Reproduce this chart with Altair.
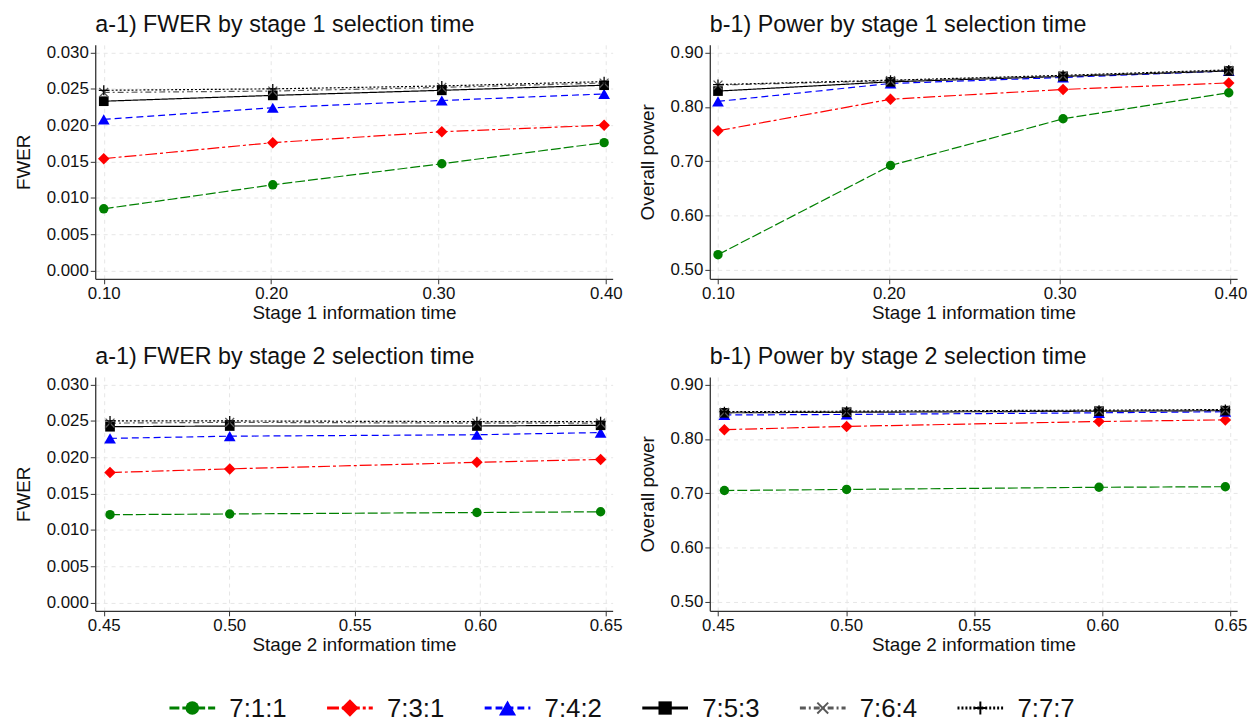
import altair as alt
import pandas as pd

FONT = "Liberation Sans"

# ---------------- data ----------------
series = ["7:1:1", "7:3:1", "7:4:2", "7:5:3", "7:6:4", "7:7:7"]
colors = ["#008000", "#ff0000", "#0000ff", "#000000", "#595959", "#000000"]
dashes = [[10, 3], [12, 3, 3, 3], [7, 4], [1, 0], [6, 3, 2, 3], [2, 2]]
shapes = ["circle", "diamond", "triangle-up", "square",
          "M-1,-1L1,1M-1,1L1,-1", "M-1,0L1,0M0,-1L0,1"]
filled = [True, True, True, True, False, False]
sizes = [90, 135, 140, 95, 80, 100]
legend_sizes = [190, 310, 300, 180, 120, 170]
legend_dashes = [[16, 6], [18, 5, 3, 5], [14, 6], [1, 0], [8, 5], [6, 5]]

stage1_time = [0.100, 0.201, 0.302, 0.399]
stage2_time = [0.4525, 0.5002, 0.5987, 0.648]

fwer_711_s1 = [0.0085, 0.0118, 0.0147, 0.0176]
fwer_731_s1 = [0.0154, 0.0176, 0.0191, 0.0200]
fwer_742_s1 = [0.0208, 0.0224, 0.0234, 0.0243]
fwer_753_s1 = [0.0233, 0.0241, 0.0248, 0.0255]
fwer_764_s1 = [0.0245, 0.0247, 0.0252, 0.0258]
fwer_777_s1 = [0.0248, 0.0250, 0.0254, 0.0260]

pow_711_s1 = [0.528, 0.692, 0.778, 0.826]
pow_731_s1 = [0.756, 0.814, 0.832, 0.844]
pow_742_s1 = [0.810, 0.843, 0.854, 0.866]
pow_753_s1 = [0.829, 0.846, 0.856, 0.866]
pow_764_s1 = [0.840, 0.848, 0.857, 0.867]
pow_777_s1 = [0.841, 0.849, 0.858, 0.868]

fwer_711_s2 = [0.0121, 0.0122, 0.0124, 0.0125]
fwer_731_s2 = [0.0179, 0.0184, 0.0193, 0.0197]
fwer_742_s2 = [0.0226, 0.0229, 0.0231, 0.0234]
fwer_753_s2 = [0.0242, 0.0243, 0.0243, 0.0244]
fwer_764_s2 = [0.0247, 0.0248, 0.0247, 0.0247]
fwer_777_s2 = [0.0250, 0.0250, 0.0249, 0.0249]

pow_711_s2 = [0.705, 0.707, 0.711, 0.712]
pow_731_s2 = [0.817, 0.823, 0.832, 0.835]
pow_742_s2 = [0.844, 0.845, 0.848, 0.850]
pow_753_s2 = [0.848, 0.849, 0.851, 0.852]
pow_764_s2 = [0.849, 0.850, 0.852, 0.853]
pow_777_s2 = [0.850, 0.851, 0.853, 0.854]

fwer_ticks = [0.000, 0.005, 0.010, 0.015, 0.020, 0.025, 0.030]
power_ticks = [0.50, 0.60, 0.70, 0.80, 0.90]
s1_ticks = [0.10, 0.20, 0.30, 0.40]
s2_ticks = [0.45, 0.50, 0.55, 0.60, 0.65]


def long_df(times, lists):
    rows = []
    for name, vals in zip(series, lists):
        for t, v in zip(times, vals):
            rows.append({"t": t, "v": v, "s": name})
    return pd.DataFrame(rows)


df_fwer1 = long_df(stage1_time, [fwer_711_s1, fwer_731_s1, fwer_742_s1, fwer_753_s1, fwer_764_s1, fwer_777_s1])
df_pow1 = long_df(stage1_time, [pow_711_s1, pow_731_s1, pow_742_s1, pow_753_s1, pow_764_s1, pow_777_s1])
df_fwer2 = long_df(stage2_time, [fwer_711_s2, fwer_731_s2, fwer_742_s2, fwer_753_s2, fwer_764_s2, fwer_777_s2])
df_pow2 = long_df(stage2_time, [pow_711_s2, pow_731_s2, pow_742_s2, pow_753_s2, pow_764_s2, pow_777_s2])

color_scale = alt.Scale(domain=series, range=colors)
dash_scale = alt.Scale(domain=series, range=dashes)


def marker_layers(base, size_list, stroke_w):
    layers = []
    for name, shp, fl, sz in zip(series, shapes, filled, size_list):
        layers.append(
            base.transform_filter(alt.datum.s == name).mark_point(
                shape=shp, filled=fl, size=sz, opacity=1,
                strokeWidth=(0 if fl else stroke_w),
            )
        )
    return layers


def panel(df, title, xtitle, ytitle, xdom, xticks, ydom, yticks, yfmt, w, h):
    base = alt.Chart(df).encode(
        x=alt.X("t:Q", scale=alt.Scale(domain=xdom, nice=False, zero=False),
                axis=alt.Axis(values=xticks, format=".2f", title=xtitle)),
        y=alt.Y("v:Q", scale=alt.Scale(domain=ydom, nice=False, zero=False),
                axis=alt.Axis(values=yticks, format=yfmt, title=ytitle)),
        color=alt.Color("s:N", scale=color_scale, legend=None),
    )
    line = base.mark_line(strokeWidth=1.2).encode(
        strokeDash=alt.StrokeDash("s:N", scale=dash_scale, legend=None)
    )
    return alt.layer(line, *marker_layers(base, sizes, 1.3)).properties(
        width=w, height=h,
        title=alt.TitleParams(title, anchor="start", frame="group"),
    )


WL, WR, H = 522, 532, 236
fwer_dom = [-0.00113, 0.03105]
pow_dom = [0.4836, 0.914]

tl = panel(df_fwer1, "a-1) FWER by stage 1 selection time", "Stage 1 information time", "FWER",
           [0.0949, 0.4041], s1_ticks, fwer_dom, fwer_ticks, ".3f", WL, H)
tr = panel(df_pow1, "b-1) Power by stage 1 selection time", "Stage 1 information time", "Overall power",
           [0.0952, 0.4039], s1_ticks, pow_dom, power_ticks, ".2f", WR, H)
bl = panel(df_fwer2, "a-1) FWER by stage 2 selection time", "Stage 2 information time", "FWER",
           [0.4466, 0.6528], s2_ticks, fwer_dom, fwer_ticks, ".3f", WL, H)
br = panel(df_pow2, "b-1) Power by stage 2 selection time", "Stage 2 information time", "Overall power",
           [0.4468, 0.6526], s2_ticks, pow_dom, power_ticks, ".2f", WR, H)

# ---------------- custom legend (sits under the left column, overflows to the right) ----------------
leg_df = pd.DataFrame({"s": series, "i": list(range(len(series)))})
lx = alt.Scale(domain=[-0.616, 2.667], nice=False, zero=False)
LEG_Y = -1
leg_base = alt.Chart(leg_df).transform_calculate(
    lo="datum.i - 0.145", hi="datum.i + 0.145", lab="datum.i + 0.235"
)
leg_lines = leg_base.mark_rule(strokeWidth=2.8).encode(
    x=alt.X("lo:Q", scale=lx, axis=None),
    x2="hi:Q",
    y=alt.value(LEG_Y),
    color=alt.Color("s:N", scale=color_scale, legend=None),
    strokeDash=alt.StrokeDash("s:N", scale=alt.Scale(domain=series, range=legend_dashes), legend=None),
)
leg_pt_base = leg_base.encode(
    x=alt.X("i:Q", scale=lx, axis=None),
    y=alt.value(LEG_Y),
    color=alt.Color("s:N", scale=color_scale, legend=None),
)
leg_text = leg_base.mark_text(align="left", baseline="middle", fontSize=26, font=FONT, color="#111111").encode(
    x=alt.X("lab:Q", scale=lx, axis=None),
    y=alt.value(LEG_Y + 1),
    text="s:N",
)
legend = alt.layer(leg_lines, *marker_layers(leg_pt_base, legend_sizes, 2.0), leg_text).properties(
    width=WL, height=20
)

chart = alt.concat(
    tl, tr, bl, br, legend,
    columns=2, spacing={"row": 99, "column": 98}, bounds="flush", align="each",
).properties(
    padding={"left": 6, "top": 2, "right": 5, "bottom": 0}
).configure_axis(
    domainColor="#333333", domainWidth=1.3, tickColor="#333333", tickSize=5, tickWidth=1,
    gridColor="#e6e6e6", gridDash=[4, 4], gridWidth=1,
    labelFont=FONT, labelFontSize=17, labelColor="#111111", labelPadding=2,
    titleFont=FONT, titleFontSize=19, titleFontWeight="normal", titleColor="#111111",
).configure_axisX(titlePadding=2).configure_axisY(titlePadding=13).configure_view(
    stroke=None
).configure_title(
    font=FONT, fontSize=23.5, fontWeight="normal", anchor="start", offset=7, color="#111111"
)

chart.save("out.html", embed_options={"renderer": "svg", "actions": False})
